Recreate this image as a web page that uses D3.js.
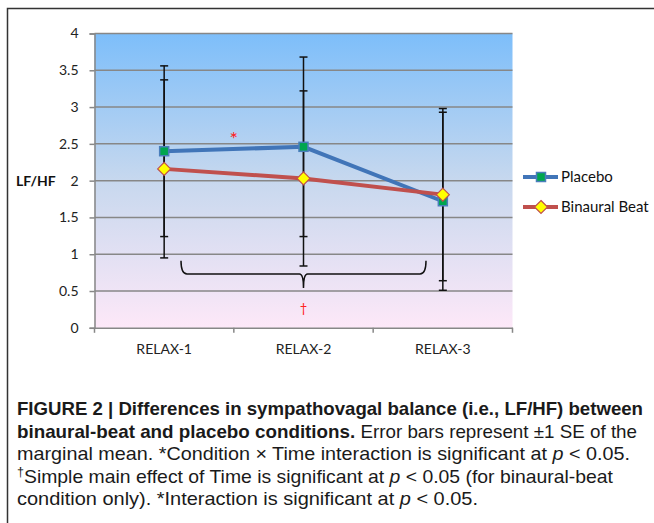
<!DOCTYPE html>
<html>
<head>
<meta charset="utf-8">
<script src="https://cdn.jsdelivr.net/npm/d3@7"></script>
<style>
    body { margin: 0; background: #fff; }
    svg { display: block; }
    .tick text { font-family: Lato, "Open Sans", sans-serif; font-size: 14px; fill: #222; }
    .caption { font-family: "Liberation Sans Narrow", "Liberation Sans", sans-serif; font-size: 18.5px; fill: #1a1a1a; }
</style>
</head>
<body>
<script>
// Chart data
var categories = ["RELAX-1", "RELAX-2", "RELAX-3"];
var placebo = [2.40, 2.46, 1.72];
var placeboSE = [1.16, 1.22, 1.21];
var binaural = [2.16, 2.03, 1.81];
var binauralSE = [1.21, 1.19, 1.17];
var yTicks = [0, 0.5, 1, 1.5, 2, 2.5, 3, 3.5, 4];
var seriesNames = ["Placebo", "Binaural Beat"];

var captionLines = [
    [{t: "FIGURE 2 | Differences in sympathovagal balance (i.e., LF/HF) between", b: true}],
    [{t: "binaural-beat and placebo conditions.", b: true}, {t: " Error bars represent \u00b11 SE of the"}],
    [{t: "marginal mean. *Condition \u00d7 Time interaction is significant at "}, {t: "p", i: true}, {t: " < 0.05."}],
    [{t: "\u2020", sup: true}, {t: "Simple main effect of Time is significant at "}, {t: "p", i: true}, {t: " < 0.05 (for binaural-beat"}],
    [{t: "condition only). *Interaction is significant at "}, {t: "p", i: true}, {t: " < 0.05."}]
];
var captionWidths = [626, 620, 613, 596, 461];

window.onload = function() {
    var svgWidth = 654, svgHeight = 523;
    var plot = {left: 94.5, right: 512.5, top: 33.5, bottom: 327.8};

    var svg = d3.select("body").append("svg")
        .attr("width", svgWidth)
        .attr("height", svgHeight);

    // Frame
    svg.append("path")
        .attr("d", "M7.5," + svgHeight + "V8.5H" + svgWidth)
        .attr("fill", "none")
        .attr("stroke", "#333")
        .attr("stroke-width", 1.5);

    var xScale = d3.scaleBand()
        .domain(categories)
        .range([plot.left, plot.right]);

    var yScale = d3.scaleLinear()
        .domain([0, 4])
        .range([plot.bottom, plot.top]);

    // Background gradient
    var grad = svg.append("defs").append("linearGradient")
        .attr("id", "bg")
        .attr("x1", 0).attr("y1", 0).attr("x2", 0).attr("y2", 1);
    grad.append("stop").attr("offset", "0%").attr("stop-color", "#7dbefa");
    grad.append("stop").attr("offset", "50%").attr("stop-color", "#c7d8ee");
    grad.append("stop").attr("offset", "100%").attr("stop-color", "#fde8f8");

    svg.append("rect")
        .attr("x", plot.left)
        .attr("y", plot.top)
        .attr("width", plot.right - plot.left)
        .attr("height", plot.bottom - plot.top)
        .attr("fill", "url(#bg)");

    // Gridlines
    svg.append("g")
        .selectAll("line")
        .data(yTicks.slice(1))
        .enter()
        .append("line")
        .attr("x1", plot.left)
        .attr("x2", plot.right)
        .attr("y1", function(d) { return yScale(d); })
        .attr("y2", function(d) { return yScale(d); })
        .attr("stroke", "#878787")
        .attr("stroke-width", 1.5);

    // Y axis
    var yAxis = svg.append("g")
        .attr("transform", "translate(" + plot.left + ",0)")
        .call(d3.axisLeft(yScale).tickValues(yTicks).tickSize(5).tickPadding(11).tickFormat(d3.format("")));
    yAxis.select(".domain").attr("stroke", "#878787").attr("stroke-width", 1.5);
    yAxis.selectAll(".tick line").attr("stroke", "#878787").attr("stroke-width", 1.5);

    // X axis
    var xAxis = svg.append("g")
        .attr("transform", "translate(0," + plot.bottom + ")")
        .call(d3.axisBottom(xScale).tickSize(0).tickPadding(16));
    xAxis.select(".domain").attr("stroke", "#878787").attr("stroke-width", 1.5);
    xAxis.selectAll(".tick text").style("font-size", "14px");

    // Tick marks at the category boundaries
    var edges = categories.map(function(c) { return xScale(c); }).concat([plot.right]);
    svg.append("g")
        .selectAll("line")
        .data(edges)
        .enter()
        .append("line")
        .attr("x1", function(d) { return d; })
        .attr("x2", function(d) { return d; })
        .attr("y1", plot.bottom)
        .attr("y2", plot.bottom + 5)
        .attr("stroke", "#878787")
        .attr("stroke-width", 1.5);

    // Y label
    svg.append("text")
        .attr("x", 16)
        .attr("y", yScale(2) + 5)
        .style("font-family", "Lato, sans-serif")
        .style("font-weight", "bold")
        .style("font-size", "14px")
        .attr("fill", "#111")
        .text("LF/HF");

    var cx = function(i) { return xScale(categories[i]) + xScale.bandwidth() / 2; };

    // Error bars
    function errorBars(values, errors) {
        var g = svg.append("g").attr("stroke", "#111").attr("stroke-width", 1.5);
        values.forEach(function(v, i) {
            var x = cx(i);
            g.append("line")
                .attr("x1", x).attr("x2", x)
                .attr("y1", yScale(v + errors[i])).attr("y2", yScale(v - errors[i]));
            [v + errors[i], v - errors[i]].forEach(function(e) {
                g.append("line")
                    .attr("x1", x - 4).attr("x2", x + 4)
                    .attr("y1", yScale(e)).attr("y2", yScale(e));
            });
        });
    }
    errorBars(placebo, placeboSE);
    errorBars(binaural, binauralSE);

    var line = d3.line()
        .x(function(d, i) { return cx(i); })
        .y(function(d) { return yScale(d); });

    // Placebo line
    svg.append("path")
        .datum(placebo)
        .attr("d", line)
        .attr("fill", "none")
        .attr("stroke", "#4175b8")
        .attr("stroke-width", 4);

    svg.append("g")
        .selectAll("rect")
        .data(placebo)
        .enter()
        .append("rect")
        .attr("x", function(d, i) { return cx(i) - 4.5; })
        .attr("y", function(d) { return yScale(d) - 4.5; })
        .attr("width", 9)
        .attr("height", 9)
        .attr("fill", "#00a64f")
        .attr("stroke", "#4a7ebb")
        .attr("stroke-width", 1.5);

    // Binaural line
    svg.append("path")
        .datum(binaural)
        .attr("d", line)
        .attr("fill", "none")
        .attr("stroke", "#c0504d")
        .attr("stroke-width", 4);

    var diamond = "M0,-6.5L6.5,0L0,6.5L-6.5,0Z";
    svg.append("g")
        .selectAll("path")
        .data(binaural)
        .enter()
        .append("path")
        .attr("d", diamond)
        .attr("transform", function(d, i) { return "translate(" + cx(i) + "," + yScale(d) + ")"; })
        .attr("fill", "#ffff00")
        .attr("stroke", "#c0504d")
        .attr("stroke-width", 1.2);

    // Significance marks
    svg.append("text")
        .attr("x", (cx(0) + cx(1)) / 2)
        .attr("y", yScale(2.62) + 11)
        .attr("text-anchor", "middle")
        .attr("fill", "#ff2020")
        .style("font-family", "Lato, sans-serif")
        .style("font-size", "20px")
        .text("*");

    svg.append("text")
        .attr("x", cx(1))
        .attr("y", yScale(0.27) + 5)
        .attr("text-anchor", "middle")
        .attr("fill", "#ff2020")
        .style("font-family", "Lato, sans-serif")
        .style("font-size", "13px")
        .text("\u2020");

    // Curly brace below the error bars
    var bx0 = 181, bx1 = 426, by = yScale(0.73), btop = yScale(0.91), btip = yScale(0.54), m = cx(1);
    svg.append("path")
        .attr("d", "M" + bx0 + "," + btop + "Q" + bx0 + "," + by + " " + (bx0 + 6) + "," + by +
            "H" + (m - 4) + "Q" + m + "," + by + " " + m + "," + btip +
            "Q" + m + "," + by + " " + (m + 4) + "," + by +
            "H" + (bx1 - 6) + "Q" + bx1 + "," + by + " " + bx1 + "," + btop)
        .attr("fill", "none")
        .attr("stroke", "#111")
        .attr("stroke-width", 1.5);

    // Legend
    var legend = svg.append("g").attr("transform", "translate(523,0)");
    var legendY = [177, 207];
    seriesNames.forEach(function(name, i) {
        var g = legend.append("g").attr("transform", "translate(0," + legendY[i] + ")");
        g.append("line")
            .attr("x1", 0).attr("x2", 35)
            .attr("stroke", i === 0 ? "#4175b8" : "#c0504d")
            .attr("stroke-width", 4);
        if (i === 0) {
            g.append("rect")
                .attr("x", 13.5).attr("y", -4.5).attr("width", 9).attr("height", 9)
                .attr("fill", "#00a64f").attr("stroke", "#4a7ebb").attr("stroke-width", 1.5);
        } else {
            g.append("path")
                .attr("d", diamond)
                .attr("transform", "translate(18,0)")
                .attr("fill", "#ffff00").attr("stroke", "#c0504d").attr("stroke-width", 1.2);
        }
        g.append("text")
            .attr("x", 38)
            .attr("y", 5)
            .style("font-family", "Lato, sans-serif")
            .style("font-size", "15px")
            .attr("fill", "#111")
            .text(name);
    });

    // Caption
    var baselines = [415, 437.5, 460, 482.5, 505];
    captionLines.forEach(function(parts, i) {
        var t = svg.append("text")
            .attr("class", "caption")
            .attr("x", 17)
            .attr("y", baselines[i])
            .attr("textLength", captionWidths[i])
            .attr("lengthAdjust", "spacingAndGlyphs");
        parts.forEach(function(p) {
            var s = t.append("tspan").text(p.t);
            if (p.b) s.style("font-weight", "bold");
            if (p.i) s.style("font-style", "italic");
            if (p.sup) s.style("font-size", "12px").attr("dy", -7).attr("data-sup", 1);
        });
        // move back to the baseline after a superscript
        t.selectAll("tspan").each(function(d, j, nodes) {
            if (j > 0 && d3.select(nodes[j - 1]).attr("data-sup")) d3.select(this).attr("dy", 7);
        });
    });
};
</script>
</body>
</html>
